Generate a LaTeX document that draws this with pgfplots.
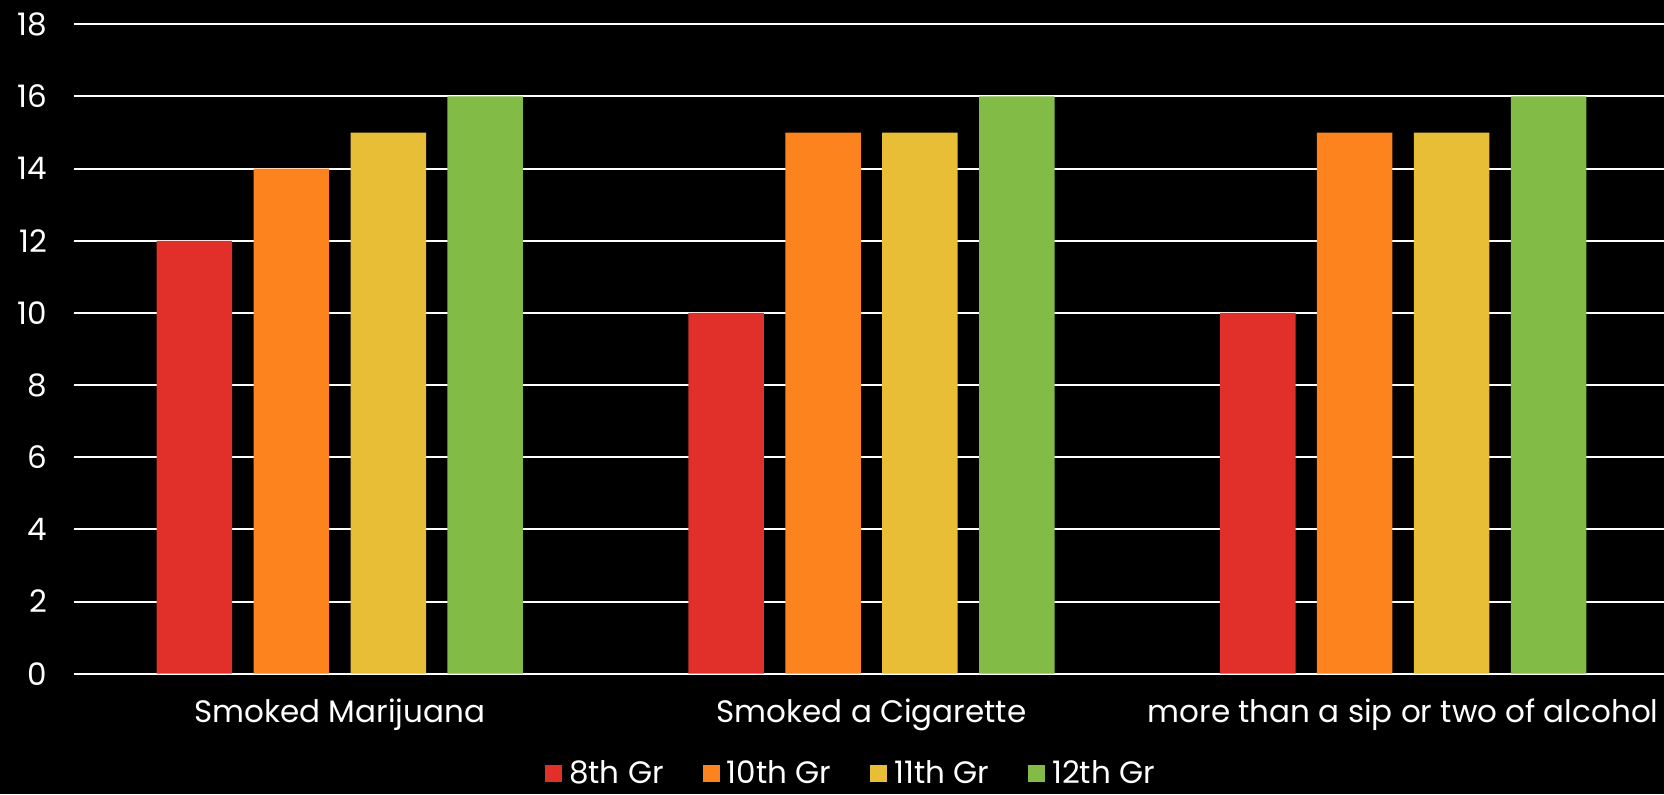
\documentclass[border=0pt]{standalone}
\usepackage{pgfplots}
\pgfplotsset{compat=1.18}
\usepackage{fontspec}
\setmainfont{Poppins}
\definecolor{cRed}{RGB}{224,48,41}
\definecolor{cOrange}{RGB}{253,131,30}
\definecolor{cYellow}{RGB}{233,190,55}
\definecolor{cGreen}{RGB}{130,187,69}
\begin{document}
\begin{tikzpicture}
\fill[black] (-37pt,-60.15pt) rectangle (800pt,336.85pt);
\begin{axis}[
  at={(0,0)}, anchor=south west,
  scale only axis,
  width=797.5pt, height=324.7pt,
  xmin=-0.5, xmax=2.5,
  ymin=0, ymax=18,
  ytick={0,2,...,18},
  xtick={0,1,2},
  xticklabels={Smoked Marijuana, Smoked a Cigarette, more than a sip or two of alcohol},
  axis line style={draw=none},
  major tick length=0pt,
  ymajorgrids,
  grid style={white, line width=1pt},
  font=\fontsize{15.5}{18}\selectfont,
  tick label style={white, font=\fontsize{15.5}{18}\selectfont},
  /pgf/number format/assume math mode=true,
  yticklabel style={xshift=-10pt},
  xticklabel style={yshift=-9pt},
  ybar, bar width=0.142,
  legend style={at={(0.4875,-0.153)}, anchor=center, draw=none, fill=none, text=white,
    font=\fontsize{15.5}{16}\selectfont, legend columns=-1,
    inner sep=0pt,
    nodes={inner sep=1.5pt},
    /tikz/every odd column/.append style={column sep=2pt},
    /tikz/every even column/.append style={column sep=18pt}},
  legend image code/.code={\fill[#1,draw=none] (0pt,-4.25pt) rectangle (8.5pt,4.25pt);},
]
\addplot[fill=cRed, draw=none, bar shift=-0.2735] coordinates {(0,12) (1,10) (2,10)};
\addplot[fill=cOrange, draw=none, bar shift=-0.0912] coordinates {(0,14) (1,15) (2,15)};
\addplot[fill=cYellow, draw=none, bar shift=0.0912] coordinates {(0,15) (1,15) (2,15)};
\addplot[fill=cGreen, draw=none, bar shift=0.2735] coordinates {(0,16) (1,16) (2,16)};
\legend{8th Gr, 10th Gr, 11th Gr, 12th Gr}
\end{axis}
\pgfresetboundingbox
\path[use as bounding box] (-37pt,-60.15pt) rectangle (795pt,336.85pt);
\end{tikzpicture}
\end{document}
